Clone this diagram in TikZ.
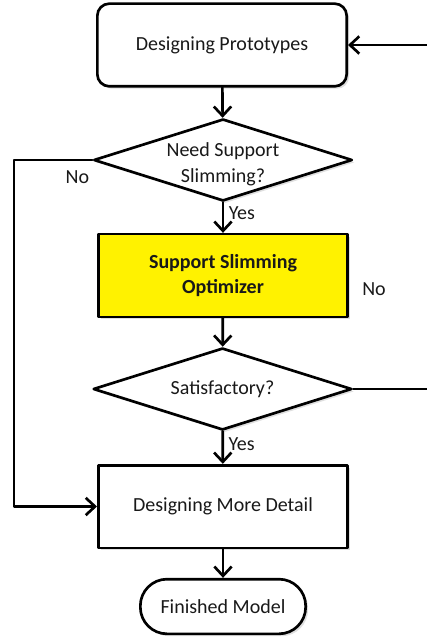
\documentclass[tikz,border=0pt]{standalone}
\usepackage{fontspec}
\setmainfont{Carlito}
\usetikzlibrary{shapes.geometric,arrows.meta,shadows}
\begin{document}
\begin{tikzpicture}[line cap=round,line join=round,>={Straight Barb[length=7pt,width=13pt]},x=0.75pt,y=-0.75pt,
	every node/.style={font=\fontsize{15}{18}\selectfont,text=black!90},
	shade/.style={drop shadow={shadow xshift=1.8pt,shadow yshift=-1.8pt,opacity=0.25}},
	box/.style={draw,line width=2pt,fill=white,minimum width=187pt,minimum height=62pt,align=center,shade},
	decide/.style={diamond,aspect=3.2,draw,line width=2pt,fill=white,inner sep=0pt,minimum width=194pt,minimum height=61.5pt,align=center,shade},
	link/.style={->,line width=2pt}]
	\useasboundingbox (0,0) rectangle (426,641);
	\node[box,rounded corners=9pt] (proto) at (222,45) {Designing Prototypes};
	\node[decide,inner ysep=-4pt,font=\fontsize{15}{19}\selectfont] (need) at (223,160) {\rule{0pt}{17pt}Need Support\\Slimming?};
	\node[box,fill=yellow,font=\fontsize{15}{19}\selectfont\bfseries] (slim) at (223,275.5) {Support Slimming\\Optimizer};
	\node[decide] (sat) at (222.5,389) {Satisfactory?};
	\node[box] (detail) at (223,506.5) {Designing More Detail};
	\node[box,minimum width=124pt,minimum height=41pt,rounded corners=20pt] (done) at (223,606.5) {Finished Model};
	\draw[link] (proto) -- (need);
	\draw[link] (need) -- node(yes1)[right,pos=0.35]{Yes} (slim);
	\draw[link] (need.west) -- node(no1)[below=4pt,pos=0.19]{No} (14,160) |- (detail.west);
	\draw[link] (slim) -- (sat);
	\draw[link] (sat) -- node(yes2)[right,pos=0.4]{Yes} (detail);
	\draw[link] (sat.east) -- (428,389) |- (proto.east);
	\node (no2) at (374,289) {No};
	\draw[link] (detail) -- (done);
\end{tikzpicture}
\end{document}
